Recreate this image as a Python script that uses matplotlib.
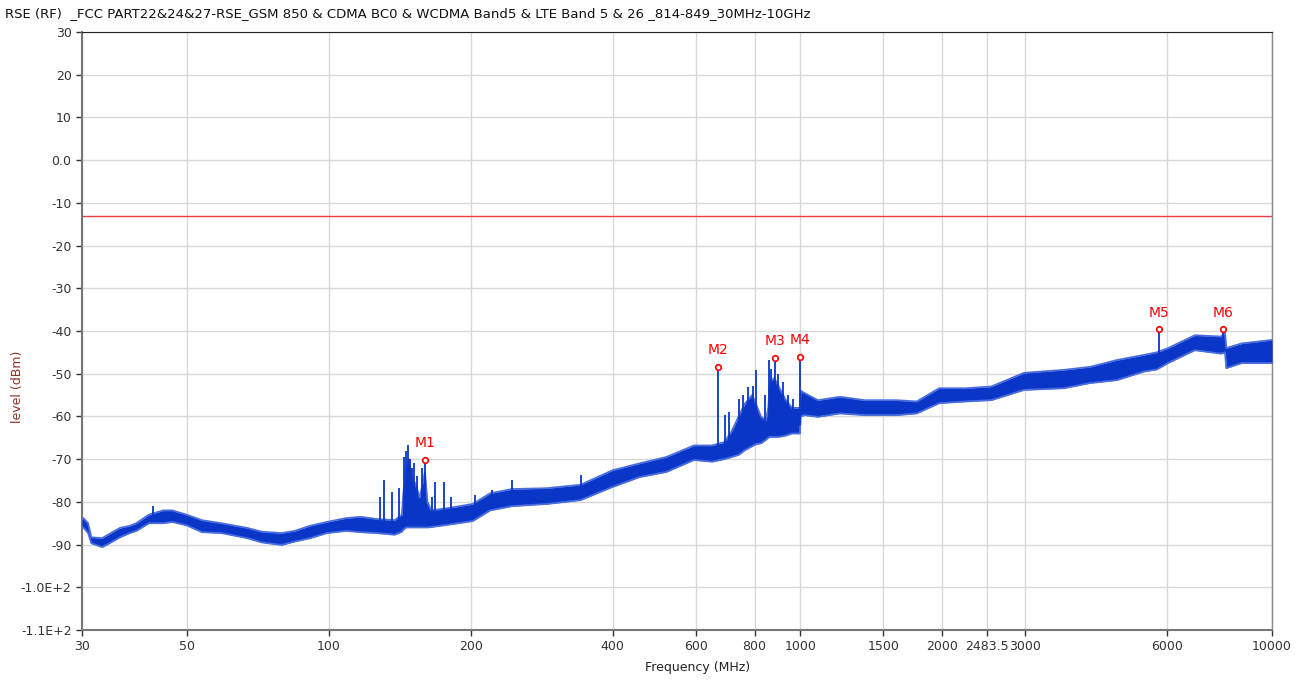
import matplotlib
matplotlib.use('Agg')
import matplotlib.pyplot as plt
import numpy as np

title = "RSE (RF)  _FCC PART22&24&27-RSE_GSM 850 & CDMA BC0 & WCDMA Band5 & LTE Band 5 & 26 _814-849_30MHz-10GHz"

# trace envelope (MHz, dBm)
freq = [30, 30.2, 30.9, 31.4, 33.1, 34.3, 36.1, 37.9, 39.1, 41.6, 44.6, 46.6, 50.0,
        53.9, 59.2, 67.2, 72.2, 79.5, 84.7, 91.4, 99.2, 109, 117, 126, 138, 143,
        144, 146, 148, 150, 153, 156, 158, 160, 162, 165, 178, 202, 220, 245, 290,
        342, 400, 456, 520, 595, 650, 690, 715, 740, 763, 790, 805, 825, 845, 855,
        862, 880, 900, 930, 960, 998,
        1002, 1020, 1090, 1213, 1370, 1600, 1765, 1970, 2240, 2540, 2980, 3620,
        4110, 4690, 5350, 5700, 6020, 6860, 7800, 7950, 8000, 8630, 10000]
lower = [-86, -86, -87.3, -89.7, -90.6, -89.7, -88.3, -87.3, -86.8, -85, -85, -84.7,
         -85.5, -87.1, -87.3, -88.5, -89.5, -90.1, -89.3, -88.5, -87.3, -86.8, -87.1,
         -87.3, -87.7, -87, -86.5, -86, -86, -86, -86, -86, -86, -86, -86, -85.9, -85.4,
         -84.5, -82, -81, -80.5, -79.6, -76.5, -74.2, -73, -70.2, -70.6, -70, -69.5,
         -69, -67.9, -67, -66.5, -66.3, -65.5, -65, -64.8, -64.8, -64.8, -64.5, -64,
         -64, -60, -59.7, -60.1, -59.3, -59.7, -59.7, -59.3, -56.9, -56.5, -56.2,
         -53.8, -53.4, -52.2, -51.5, -49.5, -49, -47.5, -44.5, -45.3, -45, -48.7,
         -47.5, -47.5]
upper = [-84, -83.8, -85, -88.3, -88.5, -87.5, -86.1, -85.6, -85, -83, -82, -82,
         -83, -84.3, -85, -86.1, -87, -87.3, -86.8, -85.6, -84.7, -83.8, -83.5, -84,
         -84.3, -83, -78, -72, -70, -74, -76, -79, -76, -73, -80, -82, -81.5, -80.5,
         -78, -77, -76.8, -76, -72.6, -71, -69.5, -66.8, -66.8, -66, -63.5, -60,
         -57, -55, -57, -60, -61, -58, -52, -51, -53, -56, -58, -58,
         -54, -54.5, -56.2, -55.4, -56.2, -56.2, -56.5, -53.4, -53.4, -53, -49.8,
         -49.1, -48.4, -46.8, -45.6, -45, -44, -41, -41.3, -40.5, -44, -42.9, -42.1]

# narrow spikes (MHz, top dBm, base dBm)
spike_f = [42.5, 128.5, 131.3, 136, 140.8, 144.2, 145.8, 147.1, 148.5, 150, 151.5,
           154, 157.6, 160.3, 165.6, 168, 175.6, 182, 204, 222, 245, 342,
           669, 691, 707, 740, 755, 774, 795, 805, 840, 860, 868, 884, 898, 920,
           940, 966, 998, 5757, 7872]
spike_top = [-81, -78.9, -74.9, -77.7, -76.8, -69.5, -68, -66.7, -70, -72, -71,
             -74, -72, -70.2, -78.9, -75.4, -75.4, -78.9, -78.4, -77.2, -74.9, -73.7,
             -48.4, -59.7, -59, -56, -55, -53.1, -52.9, -49.2, -55, -46.8, -49, -46.3,
             -50, -52, -55, -56, -46.1, -39.6, -39.6]
spike_base = [-84, -85, -85, -85, -85, -84, -84, -84, -84, -84, -84,
              -84, -84, -84, -84, -84, -84, -83, -82, -80, -79, -78,
              -68, -68, -68, -66, -65, -64, -63, -63, -62, -62, -62, -62, -62, -62,
              -62, -62, -62, -46, -45]

# markers
mk_name = ['M1', 'M2', 'M3', 'M4', 'M5', 'M6']
mk_f = [160.3, 669, 884, 998, 5757, 7872]
mk_lvl = [-70.2, -48.4, -46.3, -46.1, -39.6, -39.6]

limit = -13

xticks = [30, 50, 100, 200, 400, 600, 800, 1000, 1500, 2000, 2483.5, 3000, 6000, 10000]
xlabels = ['30', '50', '100', '200', '400', '600', '800', '1000', '1500', '2000', '2483.5', '3000', '6000', '10000']
yticks = list(range(-110, 31, 10))
ylabels = ['-1.1E+2', '-1.0E+2', '-90', '-80', '-70', '-60', '-50', '-40', '-30', '-20', '-10', '0.0', '10', '20', '30']

blue = '#0a36c8'

fig = plt.figure(figsize=(13.05, 6.82), dpi=100)
ax = fig.add_axes([82/1305, 1-630/682, 1190/1305, 598/682])
ax.set_xscale('log')
ax.set_xlim(30, 10000)
ax.set_ylim(-110, 30)

ax.fill_between(freq, lower, upper, color=blue, lw=0, zorder=3)
ax.plot(freq, upper, color='#4a6ee0', lw=1.3, zorder=3)
ax.plot(freq, lower, color='#4a6ee0', lw=1.3, zorder=3)
ax.vlines(spike_f, spike_base, spike_top, color=blue, lw=1.3, zorder=3)

ax.axhline(limit, color='#f03c3c', lw=1, zorder=2)

ax.plot(mk_f, mk_lvl, 'o', ms=4, mfc='white', mec='red', mew=1.2, zorder=4)
for n, f, v in zip(mk_name, mk_f, mk_lvl):
    ax.annotate(n, (f, v), xytext=(0, 7), textcoords='offset points',
                ha='center', va='bottom', color='red', fontsize=10, zorder=5)

ax.set_xticks(xticks)
ax.set_xticklabels(xlabels)
ax.xaxis.set_minor_locator(matplotlib.ticker.NullLocator())
ax.set_yticks(yticks)
ax.set_yticklabels(ylabels)
ax.tick_params(labelsize=9, colors='#333333', length=4, width=1)
ax.grid(True, color='#d8d8d8', lw=1)
ax.set_axisbelow(True)
for s in ['left', 'bottom']:
    ax.spines[s].set_color('#777777')
    ax.spines[s].set_linewidth(1.5)
ax.spines['top'].set_color('#222222')
ax.spines['top'].set_linewidth(0.8)
ax.spines['right'].set_color('#888888')
ax.spines['right'].set_linewidth(1)

fig.text(5/1305, 1-14/682, title, fontsize=9.5, va='center', ha='left', color='#111111')
fig.text(18/1305, 1-387/682, 'level (dBm)', rotation=90, fontsize=9, va='center', ha='center', color='#8a3324')
fig.text(698/1305, 1-668/682, 'Frequency (MHz)', fontsize=9, va='center', ha='center', color='#222222')

fig.savefig('out.png', dpi=100)
